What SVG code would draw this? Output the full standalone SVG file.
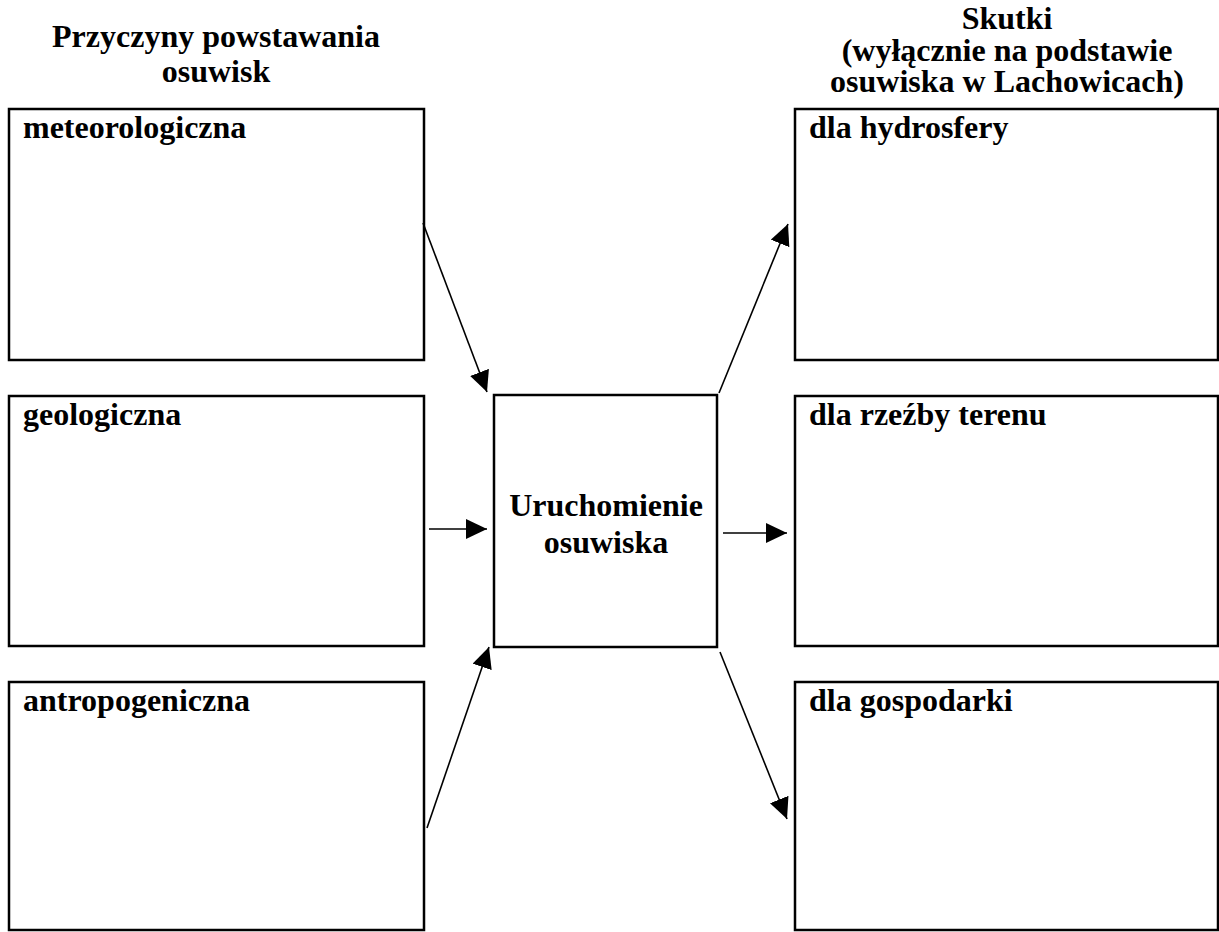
<svg xmlns="http://www.w3.org/2000/svg" width="1219" height="932" viewBox="0 0 1219 932">
<defs>
<style>
.box{fill:#fff;stroke:#000;stroke-width:2.5}
.t{font-family:"Liberation Serif","Times New Roman",serif;font-weight:bold;font-size:32px;fill:#000}
.h{text-anchor:middle}
.c line{stroke:#000;stroke-width:1.6}
</style>
<marker id="ah" markerUnits="userSpaceOnUse" markerWidth="22" markerHeight="20" refX="21" refY="10" orient="auto">
<path d="M0,0 L21,10 L0,20 Z" fill="#000"/>
</marker>
</defs>
<rect width="1219" height="932" fill="#fff"/>
<g id="header-left">
<text class="t h" x="216" y="47">Przyczyny powstawania</text>
<text class="t h" x="216" y="82">osuwisk</text>
</g>
<g id="header-right">
<text class="t h" x="1007" y="29">Skutki</text>
<text class="t h" x="1007" y="61">(wyłącznie na podstawie</text>
<text class="t h" x="1007" y="92">osuwiska w Lachowicach)</text>
</g>
<g id="meteo"><rect class="box" x="9" y="109" width="415" height="251"/><text class="t" x="23" y="138">meteorologiczna</text></g>
<g id="geo"><rect class="box" x="9" y="396" width="415" height="250"/><text class="t" x="23" y="425">geologiczna</text></g>
<g id="antropo"><rect class="box" x="9" y="682" width="415" height="248"/><text class="t" x="23" y="711">antropogeniczna</text></g>
<g id="center"><rect class="box" x="494" y="395" width="223" height="252"/>
<text class="t h" x="606" y="516">Uruchomienie</text>
<text class="t h" x="606" y="553">osuwiska</text></g>
<g id="hydro"><rect class="box" x="795" y="109" width="423" height="251"/><text class="t" x="809" y="138">dla hydrosfery</text></g>
<g id="rzezba"><rect class="box" x="795" y="396" width="423" height="250"/><text class="t" x="809" y="425">dla rzeźby terenu</text></g>
<g id="gosp"><rect class="box" x="795" y="682" width="423" height="248"/><text class="t" x="809" y="711">dla gospodarki</text></g>
<g class="c" id="connectors">
<line x1="423" y1="223" x2="487" y2="392" marker-end="url(#ah)"/>
<line x1="429" y1="529" x2="487" y2="529" marker-end="url(#ah)"/>
<line x1="427" y1="828" x2="489" y2="647" marker-end="url(#ah)"/>
<line x1="719" y1="393" x2="788" y2="224" marker-end="url(#ah)"/>
<line x1="723" y1="533" x2="787" y2="533" marker-end="url(#ah)"/>
<line x1="720" y1="652" x2="787" y2="819" marker-end="url(#ah)"/>
</g>
</svg>
